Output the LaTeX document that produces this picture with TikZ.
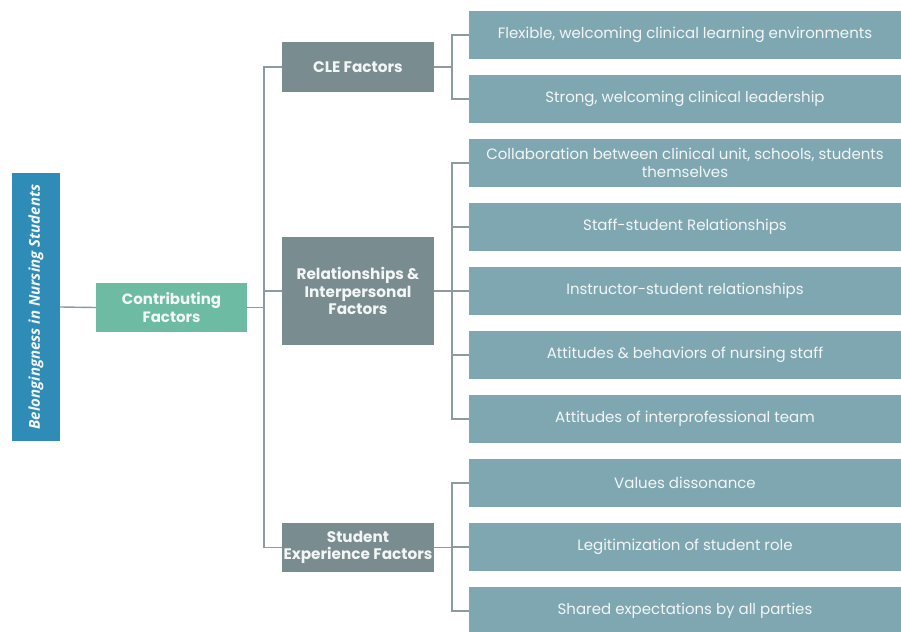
\documentclass[tikz,border=0pt]{standalone}
\usepackage{fontspec}
\setmainfont{Poppins}
\newfontfamily\titlefont{Open Sans}
\definecolor{rootblue}{HTML}{2F8CB6}
\definecolor{contribgreen}{HTML}{6DBBA2}
\definecolor{midgray}{HTML}{798C90}
\definecolor{leafteal}{HTML}{7FA7B2}
\definecolor{linkgray}{HTML}{8C9B9F}
\definecolor{textwhite}{HTML}{F4F6F6}
\begin{document}
\begin{tikzpicture}[x=1pt,y=-1pt,
  box/.style={inner sep=0pt, text=textwhite, align=center},
  rootbox/.style={box, fill=rootblue, minimum width=268pt, minimum height=48pt, rotate=90,
    font=\titlefont\bfseries\itshape\fontsize{15}{18}\selectfont},
  contribbox/.style={box, fill=contribgreen, minimum width=151pt, minimum height=49pt,
    font=\bfseries\fontsize{15}{17.5}\selectfont},
  midbox/.style={box, fill=midgray, minimum width=152pt,
    font=\bfseries\fontsize{15.3}{17.5}\selectfont},
  leafbox/.style={box, fill=leafteal, minimum width=432pt, minimum height=48pt,
    font=\fontsize{15}{17}\selectfont},
  link/.style={draw=linkgray, line width=1.4pt}
]
\useasboundingbox (0,0) rectangle (901,631);

% root and first level
\node[rootbox] (root) at (36,307) {Belongingness in Nursing Students};
\node[contribbox] (contrib) at (171.5,307.5) {Contributing\\Factors};

% factor groups
\node[midbox, minimum height=50pt] (cle) at (358,67) {CLE Factors};
\node[midbox, minimum height=108pt] (rel) at (358,291) {Relationships \&\\Interpersonal\\Factors};
\node[midbox, minimum height=49pt] (stu) at (358,547.5) {Student\\Experience Factors};

% leaves
\node[leafbox] (l1) at (685,35) {Flexible, welcoming clinical learning environments};
\node[leafbox] (l2) at (685,99) {Strong, welcoming clinical leadership};
\node[leafbox, font=\fontsize{15}{18}\selectfont] (l3) at (685,163) {Collaboration between clinical unit, schools, students\\themselves};
\node[leafbox] (l4) at (685,227) {Staff-student Relationships};
\node[leafbox] (l5) at (685,291) {Instructor-student relationships};
\node[leafbox] (l6) at (685,355) {Attitudes \& behaviors of nursing staff};
\node[leafbox] (l7) at (685,419) {Attitudes of interprofessional team};
\node[leafbox] (l8) at (685,483) {Values dissonance};
\node[leafbox] (l9) at (685,547) {Legitimization of student role};
\node[leafbox] (l10) at (685,611) {Shared expectations by all parties};

% junction columns
\coordinate (trunk) at (264,0);
\coordinate (fork) at (452,0);

% root to contributing factors
\draw[link] (root.south) -- (contrib.west);

% contributing factors to the three groups
\draw[link] (contrib.east) -- (trunk |- contrib.east);
\draw[link] (cle.west) -- (trunk |- cle.west) -- (trunk |- stu.west) -- (stu.west);
\draw[link] (rel.west) -- (trunk |- rel.west);

% groups to their leaves
\draw[link] (cle.east) -- (fork |- cle.east);
\draw[link] (l1.west) -- (fork |- l1.west) -- (fork |- l2.west) -- (l2.west);

\draw[link] (rel.east) -- (fork |- rel.east);
\draw[link] (l3.west) -- (fork |- l3.west) -- (fork |- l7.west) -- (l7.west);
\foreach \n in {l4,l5,l6} \draw[link] (\n.west) -- (fork |- \n.west);

\draw[link] (stu.east) -- (fork |- stu.east);
\draw[link] (l8.west) -- (fork |- l8.west) -- (fork |- l10.west) -- (l10.west);
\draw[link] (l9.west) -- (fork |- l9.west);
\end{tikzpicture}
\end{document}
